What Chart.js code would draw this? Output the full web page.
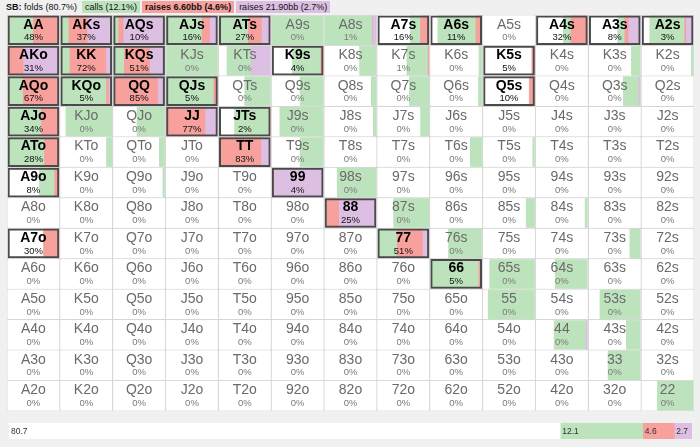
<!DOCTYPE html>
<html>
<head>
<meta charset="utf-8">
<script src="https://cdn.jsdelivr.net/npm/chart.js@4.4.0/dist/chart.umd.min.js"></script>
<style>
  body { margin:0; background:#f0f0f0; width:700px; height:447px; overflow:hidden; font-family:"Liberation Sans", Arial, sans-serif; }
  #legend { position:absolute; left:6px; top:1px; font-size:9px; line-height:12px; white-space:nowrap; color:#111; }
  #legend span { display:inline-block; padding:0 3px; margin-right:2px; }
  #grid { position:absolute; left:7px; top:15px; width:687px; height:396px; }
  #foot { position:absolute; left:9px; top:423px; width:683px; height:16px; }
</style>
</head>
<body>
<div id="legend"><b>SB:</b> <span style="padding-left:0">folds (80.7%)</span><span style="background:#bde3bd">calls (12.1%)</span><span style="background:#f7a09c"><b>raises 6.60bb (4.6%)</b></span><span style="background:#dcbfe2">raises 21.90bb (2.7%)</span></div>
<div id="grid"><canvas id="c"></canvas></div>
<div id="foot"><canvas id="f"></canvas></div>
<script>
// SB opening range — rows/cols in rank order, upper right = suited, lower left = offsuit
const RANKS = ['A','K','Q','J','T','9','8','7','6','5','4','3','2'];

// % call per cell
const calls = [
  [50,16,10,70,57,100,93,20,75,0,15,14,69],
  [0,18,21,100,48,56,32,42,5,0,0,17,3],
  [30,90,3,93,50,45,9,38,6,0,0,31,0],
  [66,90,54,0,68,85,5,16,0,0,0,0,0],
  [72,10,10,0,0,45,0,0,22,3,0,0,0],
  [30,0,3,0,0,0,76,0,0,0,0,0,0],
  [0,0,0,0,0,0,3,69,0,16,4,0,0],
  [0,0,0,0,0,0,0,38,65,0,0,20,0],
  [0,0,0,0,0,0,0,0,95,88,63,0,0],
  [0,0,0,0,0,0,0,0,0,91,0,79,0],
  [0,0,0,0,0,0,0,0,0,0,63,27,0],
  [0,0,0,0,0,0,0,0,0,0,0,63,0],
  [0,0,0,0,0,0,0,0,0,0,0,0,70]
];
// % raise 6.60bb (the number printed in each cell)
const raise660 = [
  [48,37,10,16,27,0,1,16,11,0,32,8,3],
  [31,72,51,0,0,4,0,1,0,5,0,0,0],
  [67,5,85,5,0,0,0,0,0,10,0,0,0],
  [34,0,0,77,2,0,0,0,0,0,0,0,0],
  [28,0,0,0,83,0,0,0,0,0,0,0,0],
  [8,0,0,0,0,4,0,0,0,0,0,0,0],
  [0,0,0,0,0,0,25,0,0,0,0,0,0],
  [30,0,0,0,0,0,0,51,0,0,0,0,0],
  [0,0,0,0,0,0,0,0,5,0,0,0,0],
  [0,0,0,0,0,0,0,0,0,0,0,0,0],
  [0,0,0,0,0,0,0,0,0,0,0,0,0],
  [0,0,0,0,0,0,0,0,0,0,0,0,0],
  [0,0,0,0,0,0,0,0,0,0,0,0,0]
];
// % raise 21.90bb
const raise2190 = [
  [2,47,80,14,16,0,6,0,0,0,0,22,13],
  [69,10,28,0,37,0,0,0,0,0,0,0,0],
  [3,5,12,2,0,0,0,0,0,0,0,2,0],
  [0,0,0,23,0,0,0,0,0,0,0,0,0],
  [0,0,0,0,17,0,0,0,0,0,0,0,0],
  [0,0,0,0,0,96,0,0,0,0,0,0,0],
  [0,0,0,0,0,0,72,0,0,0,0,0,0],
  [0,0,0,0,0,0,0,11,0,0,0,0,0],
  [0,0,0,0,0,0,0,0,0,0,0,0,0],
  [0,0,0,0,0,0,0,0,0,0,0,0,0],
  [0,0,0,0,0,0,0,0,0,0,2,0,0],
  [0,0,0,0,0,0,0,0,0,0,0,0,0],
  [0,0,0,0,0,0,0,0,0,0,0,0,0]
];
// overall totals: folds, calls, raise 6.60bb, raise 21.90bb
const totalLabels = ['80.7','12.1','4.6','2.7'];
const totals = [80.7, 12.1, 4.6, 2.7];

const COLORS = { fold:'#ffffff', call:'#bde3bd', r1:'#f7a09c', r2:'#dcbfe2' };
const FONT = '"Liberation Sans", Arial, sans-serif';

function handName(r, c) {
  if (r === c) return RANKS[r] + RANKS[c];
  return r < c ? RANKS[r] + RANKS[c] + 's' : RANKS[c] + RANKS[r] + 'o';
}
const isHot = (r, c) => raise660[r][c] >= 2;

// build floating segments: fold | call | raise 6.60 | raise 21.90, left to right
const M = 0.02;
const seg = { fold:[], call:[], r1:[], r2:[] };
const bg = [], hot = [];
RANKS.forEach((rr, r) => RANKS.forEach((cc, c) => {
  const cl = calls[r][c], a = raise660[r][c], b = raise2190[r][c];
  const fd = Math.max(0, 100 - cl - a - b);
  const span = 1 - 2 * M;
  let pos = c + M;
  [['fold', fd], ['call', cl], ['r1', a], ['r2', b]].forEach(([k, v]) => {
    if (v > 0) seg[k].push({ y: rr, x: [pos, pos + v / 100 * span] });
    pos += v / 100 * span;
  });
  bg.push({ y: rr, x: [c, c + 1] });
  if (isHot(r, c)) hot.push({ y: rr, x: [c + 0.012, c + 0.988] });
}));

const barDs = (data, color, order, pct) => ({
  data, backgroundColor: color, borderWidth: 0, order,
  grouped: false, barPercentage: pct, categoryPercentage: 1, inflateAmount: 0.4
});

const cellText = {
  id: 'cellText',
  afterDatasetsDraw(chart) {
    const { ctx, scales: { x, y } } = chart;
    ctx.save();
    ctx.textAlign = 'center'; ctx.textBaseline = 'middle';
    RANKS.forEach((rr, r) => RANKS.forEach((cc, c) => {
      const cx = x.getPixelForValue(c + 0.5), cy = y.getPixelForValue(r);
      const h = isHot(r, c);
      ctx.fillStyle = h ? '#000' : '#6a6a6a';
      ctx.font = (h ? 'bold ' : '') + '14px ' + FONT;
      ctx.fillText(handName(r, c), cx, cy - 5.5);
      ctx.fillStyle = h ? '#111' : '#7a7a7a';
      ctx.font = '9.5px ' + FONT;
      ctx.fillText(raise660[r][c] + '%', cx, cy + 7.5);
    }));
    ctx.restore();
  }
};

new Chart(document.getElementById('c'), {
  type: 'bar',
  data: {
    labels: RANKS,
    datasets: [
      { data: bg, backgroundColor: '#ffffff', borderColor: '#d6d6d6', borderWidth: 1, borderSkipped: false,
        order: 9, grouped: false, barPercentage: 1, categoryPercentage: 1 },
      barDs(seg.fold, COLORS.fold, 8, 0.94),
      barDs(seg.call, COLORS.call, 7, 0.94),
      barDs(seg.r1, COLORS.r1, 6, 0.94),
      barDs(seg.r2, COLORS.r2, 5, 0.94),
      { data: hot, backgroundColor: 'rgba(0,0,0,0)', borderColor: '#4a4a4a', borderWidth: 2, borderSkipped: false,
        order: 1, grouped: false, barPercentage: 0.975, categoryPercentage: 1 }
    ]
  },
  options: {
    indexAxis: 'y', responsive: true, maintainAspectRatio: false, animation: false,
    layout: { padding: 0 },
    plugins: { legend: { display: false }, tooltip: { enabled: false } },
    scales: {
      x: { type: 'linear', min: 0, max: 13, display: false },
      y: { type: 'category', display: false }
    }
  },
  plugins: [cellText]
});

// footer: overall action split
const footLabels = {
  id: 'footLabels',
  afterDatasetsDraw(chart) {
    const { ctx } = chart;
    ctx.save();
    ctx.font = '8.5px ' + FONT; ctx.fillStyle = '#333'; ctx.textBaseline = 'middle';
    chart.data.datasets.forEach((ds, i) => {
      const el = chart.getDatasetMeta(i).data[0];
      ctx.fillText(totalLabels[i], Math.min(el.base, el.x) + 2, el.y + 0.5);
    });
    ctx.restore();
  }
};
new Chart(document.getElementById('f'), {
  type: 'bar',
  data: {
    labels: ['SB'],
    datasets: [COLORS.fold, COLORS.call, COLORS.r1, COLORS.r2].map((col, i) => ({
      data: [totals[i]], backgroundColor: col, borderWidth: 0, barPercentage: 1, categoryPercentage: 1
    }))
  },
  options: {
    indexAxis: 'y', responsive: true, maintainAspectRatio: false, animation: false,
    plugins: { legend: { display: false }, tooltip: { enabled: false } },
    scales: {
      x: { stacked: true, min: 0, max: 100, display: false },
      y: { stacked: true, display: false }
    }
  },
  plugins: [footLabels]
});
</script>
</body>
</html>
